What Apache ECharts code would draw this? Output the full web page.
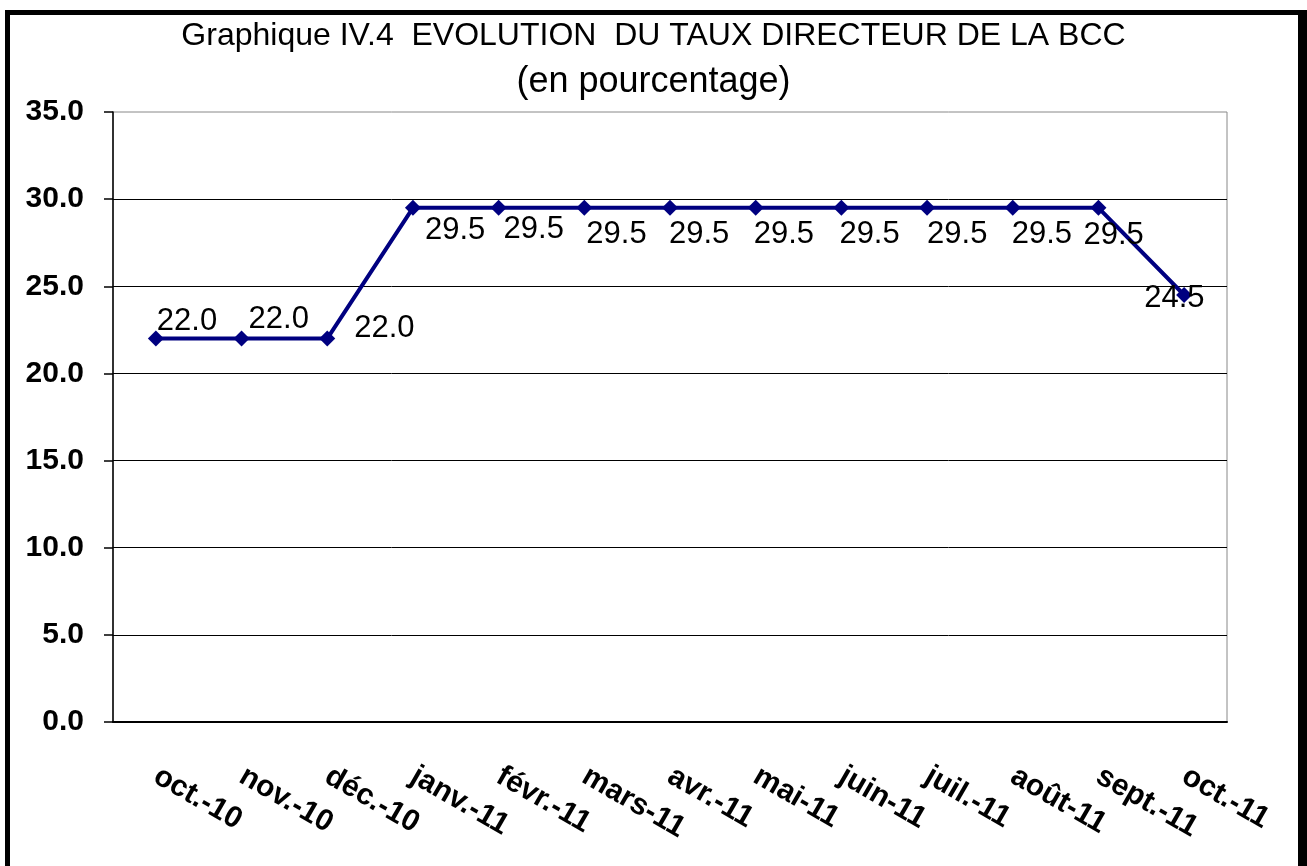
<!DOCTYPE html>
<html>
<head>
<meta charset="utf-8">
<title>Taux directeur BCC</title>
<script src="https://cdn.jsdelivr.net/npm/echarts@6/dist/echarts.min.js"></script>
<style>
    html, body { margin: 0; padding: 0; background: #fff; overflow: hidden; }
    #chart { position: absolute; left: 0; top: 0; width: 1307px; height: 866px; }
    #frame {
        position: absolute; left: 5px; top: 10px; width: 1288px; height: 880px;
        border: 5px solid #000; border-right-width: 9px;
        pointer-events: none;
    }
</style>
</head>
<body>
<div id="chart"></div>
<div id="frame"></div>
<script>
    const months = ['oct.-10', 'nov.-10', 'déc.-10', 'janv.-11', 'févr.-11', 'mars-11', 'avr.-11',
        'mai-11', 'juin-11', 'juil.-11', 'août-11', 'sept.-11', 'oct.-11']
    const tauxDirecteur = [22.0, 22.0, 22.0, 29.5, 29.5, 29.5, 29.5, 29.5, 29.5, 29.5, 29.5, 29.5, 24.5]
    const yTicks = [0, 5, 10, 15, 20, 25, 30, 35]

    // placement des étiquettes comme dans le graphique Excel
    const labelOffsets = [
        [-7, -17], [-1, -19], [19, -10], [4, 23], [-3, 22], [-6, 27], [-9, 27],
        [-10, 27], [-10, 27], [-8, 27], [-9, 27], [-23, 28], [-48, 3]
    ]

    const font = 'Liberation Sans, Arial, sans-serif'
    const chart = echarts.init(document.getElementById('chart'))

    chart.setOption({
        animation: false,
        title: [{
            text: 'Graphique IV.4  EVOLUTION  DU TAUX DIRECTEUR DE LA BCC',
            left: 'center',
            top: 15,
            textStyle: { fontFamily: font, fontSize: 32, fontWeight: 'normal', color: '#000' }
        }, {
            text: '(en pourcentage)',
            left: 'center',
            top: 59,
            textStyle: { fontFamily: font, fontSize: 36, fontWeight: 'normal', color: '#000' }
        }],
        grid: {
            left: 113,
            right: 80,
            top: 112,
            bottom: 144,
            show: true,
            borderColor: '#888',
            borderWidth: 1
        },
        xAxis: {
            type: 'category',
            data: months,
            boundaryGap: true,
            axisLine: { lineStyle: { color: '#000', width: 2 } },
            axisTick: { length: 10, lineStyle: { color: '#000', width: 1.5 } },
            axisLabel: {
                rotate: -30,
                margin: 52,
                interval: 0,
                fontFamily: font,
                fontSize: 30,
                fontWeight: 'bold',
                color: '#000'
            }
        },
        yAxis: {
            type: 'value',
            min: yTicks[0],
            max: yTicks[yTicks.length - 1],
            interval: yTicks[1] - yTicks[0],
            axisLine: { show: true, lineStyle: { color: '#000', width: 1.5 } },
            axisTick: { show: true, length: 9, lineStyle: { color: '#000', width: 1.5 } },
            axisLabel: {
                margin: 29,
                fontFamily: font,
                fontSize: 30,
                fontWeight: 'bold',
                color: '#000',
                formatter: v => v.toFixed(1)
            },
            splitLine: { showMaxLine: false, lineStyle: { color: '#000', width: 1 } }
        },
        series: [{
            type: 'line',
            data: tauxDirecteur.map((v, i) => ({
                value: v,
                label: { offset: labelOffsets[i] }
            })),
            symbol: 'diamond',
            symbolSize: 16,
            lineStyle: { color: '#000080', width: 4 },
            itemStyle: { color: '#000080' },
            label: {
                show: true,
                position: 'right',
                distance: 0,
                fontFamily: font,
                fontSize: 31,
                color: '#000',
                formatter: p => p.value.toFixed(1)
            }
        }]
    })
</script>
</body>
</html>
